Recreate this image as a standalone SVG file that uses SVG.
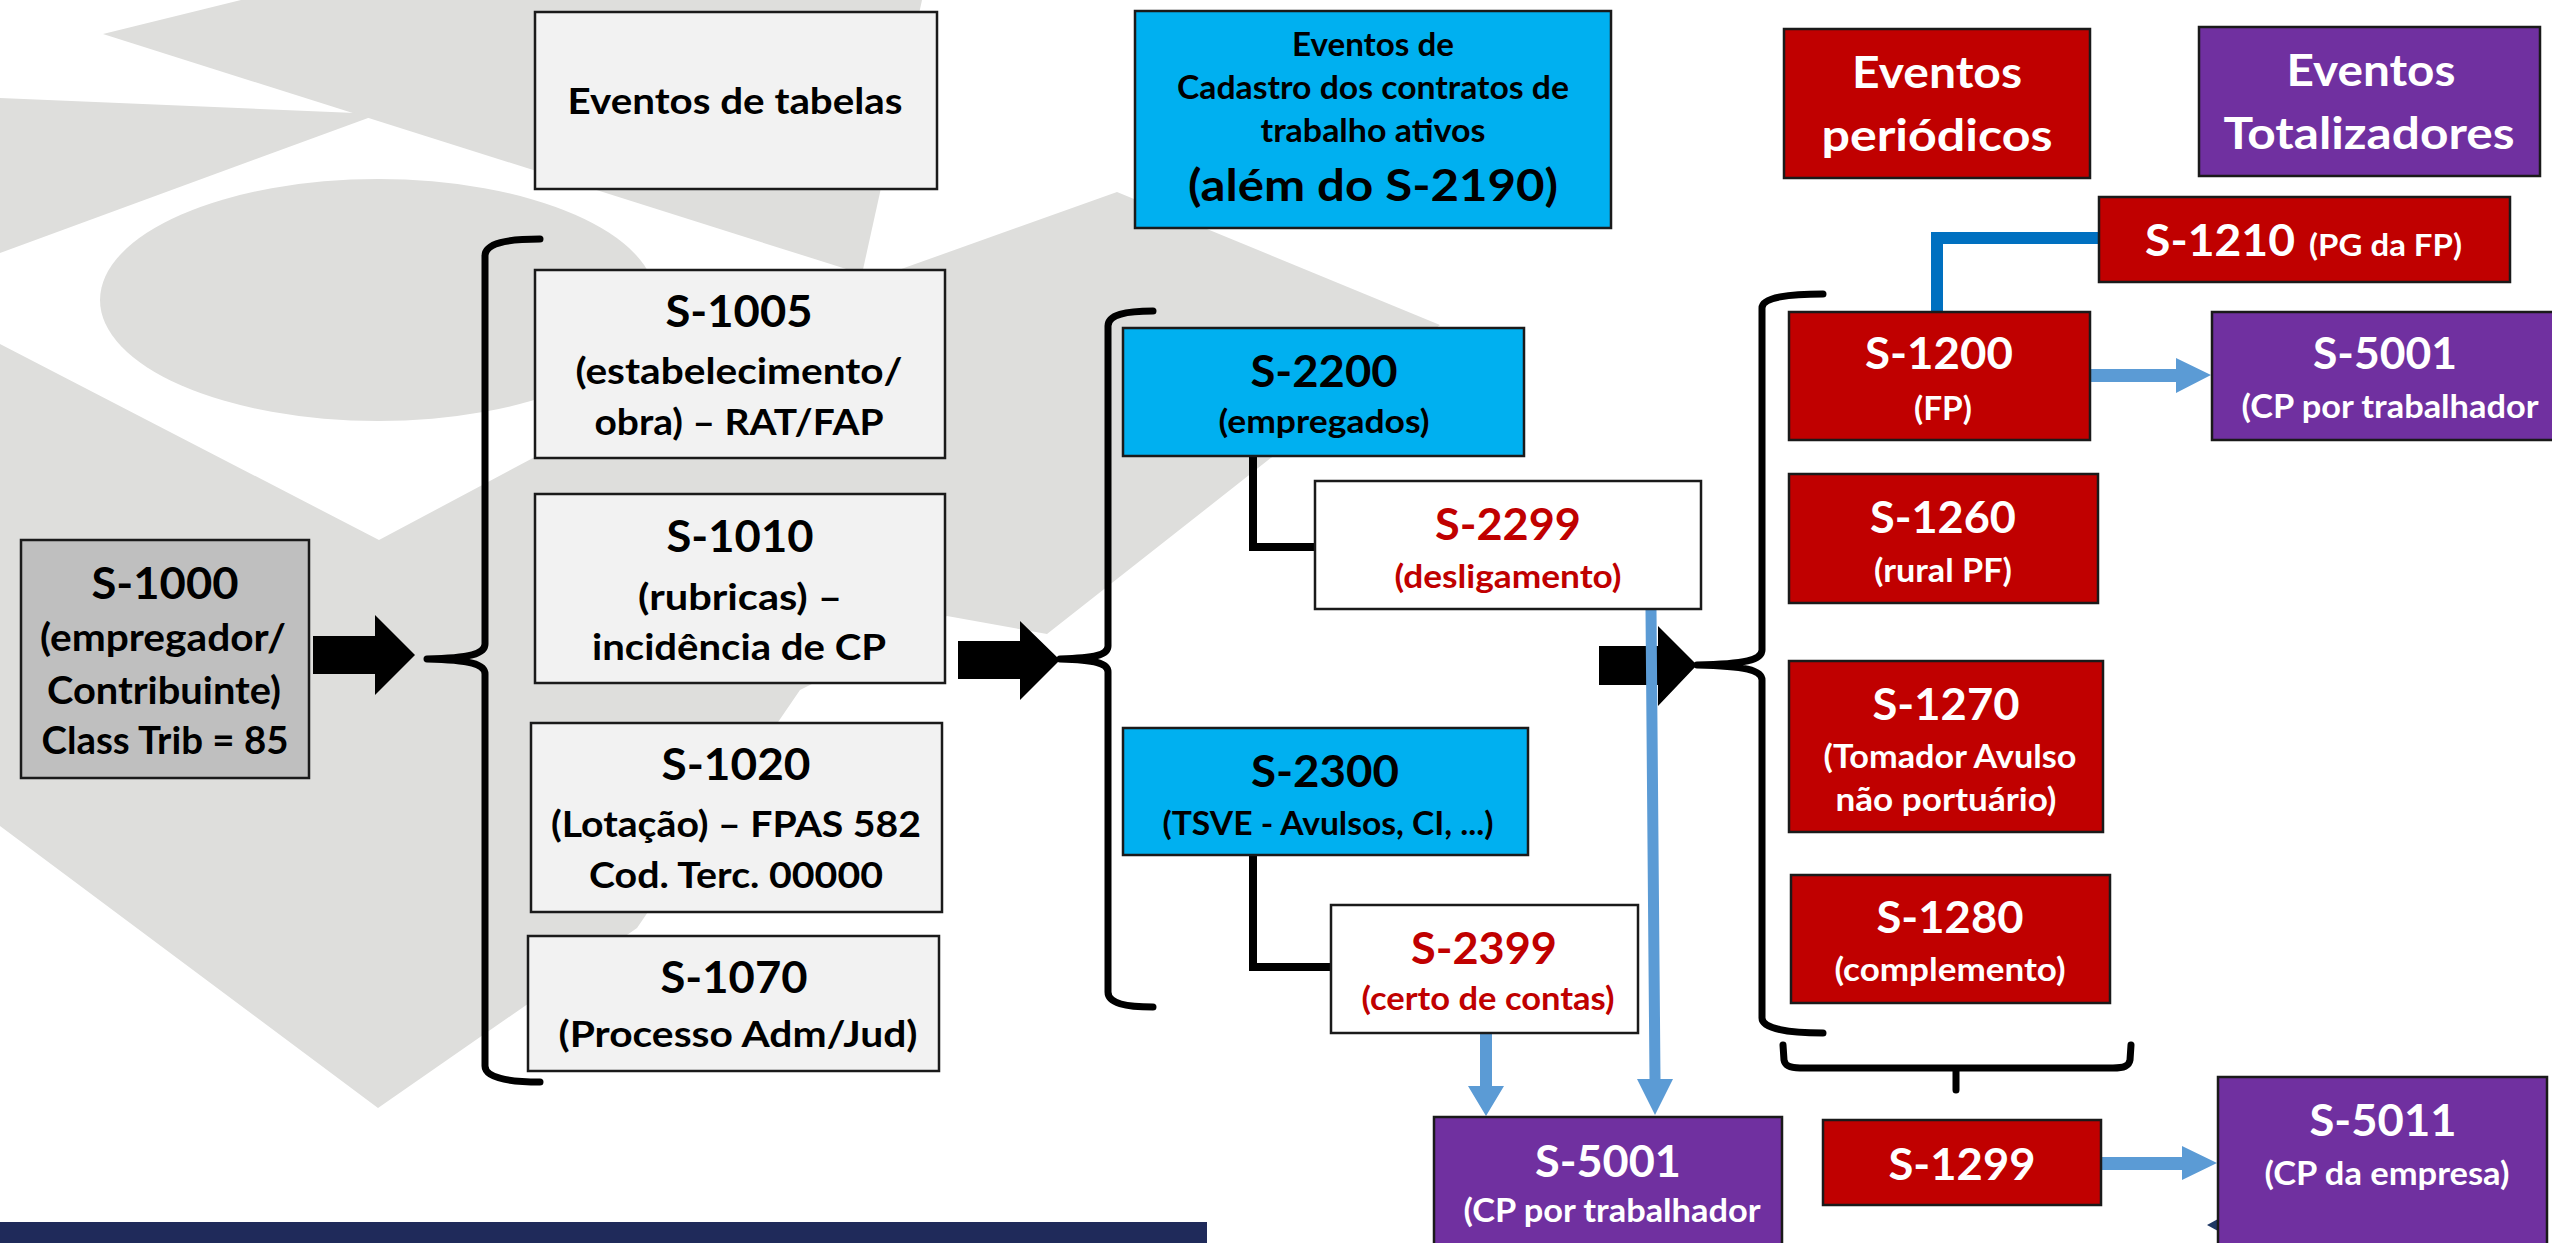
<svg xmlns="http://www.w3.org/2000/svg" width="2552" height="1243" viewBox="0 0 2552 1243">
<style>
.t{font-family:Lato,"Liberation Sans","DejaVu Sans",sans-serif;font-weight:700;text-anchor:middle}
.ts{font-family:Lato,"Liberation Sans","DejaVu Sans",sans-serif;font-weight:700;text-anchor:start}
.bk{fill:#000}.wh{fill:#fff}.rd{fill:#C00000}
.light{fill:#F2F2F2;stroke:#1a1a1a;stroke-width:2.5}
.grey{fill:#BFBFBF;stroke:#1a1a1a;stroke-width:2.5}
.cyan{fill:#00B0F0;stroke:#1a1a1a;stroke-width:2.5}
.red{fill:#C00000;stroke:#1a1a1a;stroke-width:2.5}
.purple{fill:#7030A0;stroke:#1a1a1a;stroke-width:2.5}
.white{fill:#fff;stroke:#1a1a1a;stroke-width:2.5}
.bg{fill:#DEDEDC}
.brace{fill:none;stroke:#000;stroke-width:7;stroke-linecap:round;stroke-linejoin:round}
.elbow{fill:none;stroke:#000;stroke-width:8}
.blk{fill:#000}
.blue{fill:#5B9BD5}
</style>
<rect x="0" y="0" width="2552" height="1243" fill="#fff"/>
<g id="background">
<polygon class="bg" points="103,34 241,0 922,0 879,197 862,274"/>
<polygon class="bg" points="0,98 379,114 0,253"/>
<ellipse class="bg" cx="378" cy="300" rx="278" ry="121"/>
<polygon class="bg" points="0,344 379,540 862,283 1117,192 1440,325 1047,634 947,616 800,690 637,928 378,1108 0,826"/>
<rect x="0" y="1222" width="1207" height="21" fill="#1F2A5A"/>
<polygon points="2218,1219 2207,1225 2218,1231" fill="#1F3864"/>
</g>
<g id="connectors">
<path class="brace" d="M540,239 C508,239 485,243 485,256 L485,644 C485,654 470,658 427,659 C470,660 485,664 485,674 L485,1066 C485,1078 508,1082 540,1082"/>
<path class="brace" d="M1153,311 C1125,311 1108,315 1108,326 L1108,646 C1108,655 1095,658 1060,659 C1095,660 1108,663 1108,672 L1108,992 C1108,1003 1125,1007 1153,1007"/>
<path class="brace" d="M1823,294 C1790,294 1762,297 1762,308 L1762,650 C1762,660 1745,664 1697,665 C1745,666 1762,670 1762,680 L1762,1018 C1762,1029 1790,1033 1823,1033"/>
<path class="brace" d="M1783,1045 L1784,1060 C1785,1066 1790,1068 1800,1068 L2113,1068 C2124,1068 2129,1066 2130,1060 L2131,1045 M1956,1068 L1956,1090"/>
<polygon class="blk" points="313,636 375,636 375,615 415,655 375,695 375,674 313,674"/>
<polygon class="blk" points="958,641 1020,641 1020,621 1060,660 1020,700 1020,679 958,679"/>
<polygon class="blk" points="1599,646 1658,646 1658,626 1697,665 1658,706 1658,685 1599,685"/>
<path class="elbow" d="M1253,456 V547 H1315"/>
<path class="elbow" d="M1253,855 V967 H1331"/>
<path d="M1937,314 V238 H2099" fill="none" stroke="#0070C0" stroke-width="12"/>
<polygon class="blue" points="2090,369 2176,369 2176,358 2211,375 2176,393 2176,382 2090,382"/>
<polygon class="blue" points="2101,1157 2182,1157 2182,1146 2217,1163 2182,1180 2182,1170 2101,1170"/>
<polygon class="blue" points="1480,1033 1492,1033 1492,1086 1504,1086 1486,1116 1468,1086 1480,1086"/>
<polygon class="blue" points="1645.5,610 1656.5,610 1660.5,1079 1673,1079 1655,1115 1637,1079 1649.5,1079"/>
</g>
<g id="n-tabelas"><rect class="light" x="535" y="12" width="402" height="177"/>
<text class="t bk" x="735" y="114" font-size="36" textLength="335" lengthAdjust="spacingAndGlyphs">Eventos de tabelas</text></g>
<g id="n-cadastro"><rect class="cyan" x="1135" y="11" width="476" height="217"/>
<text class="t bk" x="1373" y="56" font-size="32" textLength="162" lengthAdjust="spacingAndGlyphs">Eventos de</text>
<text class="t bk" x="1373" y="99" font-size="32" textLength="392" lengthAdjust="spacingAndGlyphs">Cadastro dos contratos de</text>
<text class="t bk" x="1373" y="142" font-size="32" textLength="225" lengthAdjust="spacingAndGlyphs">trabalho ativos</text>
<text class="t bk" x="1373" y="201" font-size="44" textLength="370" lengthAdjust="spacingAndGlyphs">(além do S-2190)</text></g>
<g id="n-periodicos"><rect class="red" x="1784" y="29" width="306" height="149"/>
<text class="t wh" x="1937" y="88" font-size="44" textLength="170" lengthAdjust="spacingAndGlyphs">Eventos</text>
<text class="t wh" x="1937" y="151" font-size="44" textLength="231" lengthAdjust="spacingAndGlyphs">periódicos</text></g>
<g id="n-totalizadores"><rect class="purple" x="2199" y="27" width="341" height="149"/>
<text class="t wh" x="2371" y="86" font-size="44" textLength="169" lengthAdjust="spacingAndGlyphs">Eventos</text>
<text class="t wh" x="2369" y="149" font-size="44" textLength="291" lengthAdjust="spacingAndGlyphs">Totalizadores</text></g>
<g id="n-s1000"><rect class="grey" x="21" y="540" width="288" height="238"/>
<text class="t bk" x="165" y="599" font-size="44" textLength="147" lengthAdjust="spacingAndGlyphs">S-1000</text>
<text class="t bk" x="163" y="651" font-size="38" textLength="246" lengthAdjust="spacingAndGlyphs">(empregador/</text>
<text class="t bk" x="164" y="704" font-size="38" textLength="234" lengthAdjust="spacingAndGlyphs">Contribuinte)</text>
<text class="t bk" x="165" y="754" font-size="38" textLength="247" lengthAdjust="spacingAndGlyphs">Class Trib = 85</text></g>
<g id="n-s1005"><rect class="light" x="535" y="270" width="410" height="188"/>
<text class="t bk" x="739" y="327" font-size="44" textLength="147" lengthAdjust="spacingAndGlyphs">S-1005</text>
<text class="t bk" x="739" y="384" font-size="37" textLength="327" lengthAdjust="spacingAndGlyphs">(estabelecimento/</text>
<text class="t bk" x="739" y="435" font-size="37" textLength="289" lengthAdjust="spacingAndGlyphs">obra) – RAT/FAP</text></g>
<g id="n-s1010"><rect class="light" x="535" y="494" width="410" height="189"/>
<text class="t bk" x="740" y="552" font-size="44" textLength="147" lengthAdjust="spacingAndGlyphs">S-1010</text>
<text class="t bk" x="740" y="610" font-size="37" textLength="204" lengthAdjust="spacingAndGlyphs">(rubricas) –</text>
<text class="t bk" x="739" y="660" font-size="37" textLength="294" lengthAdjust="spacingAndGlyphs">incidência de CP</text></g>
<g id="n-s1020"><rect class="light" x="531" y="723" width="411" height="189"/>
<text class="t bk" x="736" y="780" font-size="44" textLength="149" lengthAdjust="spacingAndGlyphs">S-1020</text>
<text class="t bk" x="736" y="837" font-size="37" textLength="370" lengthAdjust="spacingAndGlyphs">(Lotação) – FPAS 582</text>
<text class="t bk" x="736" y="888" font-size="37" textLength="294" lengthAdjust="spacingAndGlyphs">Cod. Terc. 00000</text></g>
<g id="n-s1070"><rect class="light" x="528" y="936" width="411" height="135"/>
<text class="t bk" x="734" y="993" font-size="44" textLength="147" lengthAdjust="spacingAndGlyphs">S-1070</text>
<text class="t bk" x="738" y="1047" font-size="37" textLength="359" lengthAdjust="spacingAndGlyphs">(Processo Adm/Jud)</text></g>
<g id="n-s2200"><rect class="cyan" x="1123" y="328" width="401" height="128"/>
<text class="t bk" x="1324" y="387" font-size="44" textLength="147" lengthAdjust="spacingAndGlyphs">S-2200</text>
<text class="t bk" x="1324" y="433" font-size="32" textLength="211" lengthAdjust="spacingAndGlyphs">(empregados)</text></g>
<g id="n-s2299"><rect class="white" x="1315" y="481" width="386" height="128"/>
<text class="t rd" x="1508" y="540" font-size="44" textLength="146" lengthAdjust="spacingAndGlyphs">S-2299</text>
<text class="t rd" x="1508" y="588" font-size="32" textLength="227" lengthAdjust="spacingAndGlyphs">(desligamento)</text></g>
<g id="n-s2300"><rect class="cyan" x="1123" y="728" width="405" height="127"/>
<text class="t bk" x="1325" y="787" font-size="44" textLength="148" lengthAdjust="spacingAndGlyphs">S-2300</text>
<text class="t bk" x="1328" y="835" font-size="32" textLength="331" lengthAdjust="spacingAndGlyphs">(TSVE - Avulsos, CI, ...)</text></g>
<g id="n-s2399"><rect class="white" x="1331" y="905" width="307" height="128"/>
<text class="t rd" x="1484" y="964" font-size="44" textLength="146" lengthAdjust="spacingAndGlyphs">S-2399</text>
<text class="t rd" x="1488" y="1010" font-size="32" textLength="253" lengthAdjust="spacingAndGlyphs">(certo de contas)</text></g>
<g id="n-s5001b"><rect class="purple" x="1434" y="1117" width="348" height="140"/>
<text class="t wh" x="1608" y="1177" font-size="44" textLength="146" lengthAdjust="spacingAndGlyphs">S-5001</text>
<text class="t wh" x="1612" y="1222" font-size="32" textLength="297" lengthAdjust="spacingAndGlyphs">(CP por trabalhador</text></g>
<g id="n-s1210"><rect class="red" x="2099" y="197" width="411" height="85"/>
<text class="ts wh" x="2145" y="256" font-size="44" textLength="150" lengthAdjust="spacingAndGlyphs">S-1210</text>
<text class="ts wh" x="2309" y="256" font-size="30" textLength="153" lengthAdjust="spacingAndGlyphs">(PG da FP)</text></g>
<g id="n-s1200"><rect class="red" x="1789" y="312" width="301" height="128"/>
<text class="t wh" x="1939" y="369" font-size="44" textLength="148" lengthAdjust="spacingAndGlyphs">S-1200</text>
<text class="t wh" x="1943" y="420" font-size="32" textLength="58" lengthAdjust="spacingAndGlyphs">(FP)</text></g>
<g id="n-s5001a"><rect class="purple" x="2212" y="312" width="360" height="128"/>
<text class="t wh" x="2385" y="369" font-size="44" textLength="144" lengthAdjust="spacingAndGlyphs">S-5001</text>
<text class="t wh" x="2390" y="418" font-size="32" textLength="297" lengthAdjust="spacingAndGlyphs">(CP por trabalhador</text></g>
<g id="n-s1260"><rect class="red" x="1789" y="474" width="309" height="129"/>
<text class="t wh" x="1943" y="533" font-size="44" textLength="146" lengthAdjust="spacingAndGlyphs">S-1260</text>
<text class="t wh" x="1943" y="582" font-size="32" textLength="138" lengthAdjust="spacingAndGlyphs">(rural PF)</text></g>
<g id="n-s1270"><rect class="red" x="1789" y="661" width="314" height="171"/>
<text class="t wh" x="1946" y="720" font-size="44" textLength="147" lengthAdjust="spacingAndGlyphs">S-1270</text>
<text class="t wh" x="1950" y="768" font-size="32" textLength="253" lengthAdjust="spacingAndGlyphs">(Tomador Avulso</text>
<text class="t wh" x="1946" y="811" font-size="32" textLength="221" lengthAdjust="spacingAndGlyphs">não portuário)</text></g>
<g id="n-s1280"><rect class="red" x="1791" y="875" width="319" height="128"/>
<text class="t wh" x="1950" y="933" font-size="44" textLength="147" lengthAdjust="spacingAndGlyphs">S-1280</text>
<text class="t wh" x="1950" y="981" font-size="32" textLength="231" lengthAdjust="spacingAndGlyphs">(complemento)</text></g>
<g id="n-s1299"><rect class="red" x="1823" y="1120" width="278" height="85"/>
<text class="t wh" x="1962" y="1180" font-size="44" textLength="147" lengthAdjust="spacingAndGlyphs">S-1299</text></g>
<g id="n-s5011"><rect class="purple" x="2218" y="1077" width="329" height="180"/>
<text class="t wh" x="2383" y="1136" font-size="44" textLength="147" lengthAdjust="spacingAndGlyphs">S-5011</text>
<text class="t wh" x="2387" y="1185" font-size="32" textLength="245" lengthAdjust="spacingAndGlyphs">(CP da empresa)</text></g>
</svg>
